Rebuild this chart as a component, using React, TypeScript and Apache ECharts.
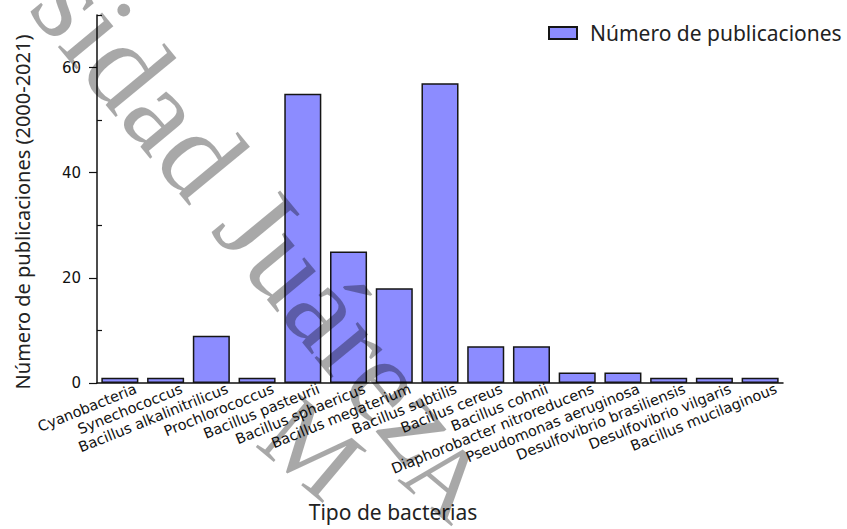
import React, { useEffect, useRef } from 'react';
import * as echarts from 'echarts';

const categories = [
  'Cyanobacteria',
  'Synechococcus',
  'Bacillus alkalinitrilicus',
  'Prochlorococcus',
  'Bacillus pasteurii',
  'Bacillus sphaericus',
  'Bacillus megaterium',
  'Bacillus subtilis',
  'Bacillus cereus',
  'Bacillus cohnii',
  'Diaphorobacter nitroreducens',
  'Pseudomonas aeruginosa',
  'Desulfovibrio brasiliensis',
  'Desulfovibrio vilgaris',
  'Bacillus mucilaginous',
];
const publicaciones = [1, 1, 9, 1, 55, 25, 18, 57, 7, 7, 2, 2, 1, 1, 1];
const yMajorTicks = [0, 20, 40, 60];
const yMinorTicks = [10, 30, 50, 70];
const seriesName = 'Número de publicaciones';
const yAxisTitle = 'Número de publicaciones (2000-2021)';
const xAxisTitle = 'Tipo de bacterias';
const watermarkMain = 'sidad Juárez';
const watermarkLetters = ['M', 'A'];

export default function App() {
  const ref = useRef<HTMLDivElement>(null);
  useEffect(() => {
    document.body.style.margin = '0';
    const chart = echarts.init(ref.current!, null, { renderer: 'svg' });
    const wmStyle = {
      fill: 'rgba(0,0,0,0.34)',
      fontFamily: '"Liberation Serif", "DejaVu Serif", serif',
    };
    chart.setOption({
      animation: false,
      backgroundColor: '#ffffff',
      grid: [
        { left: 97, right: 64, top: 15, bottom: 146 },
        { left: 113, right: 48, top: 15, bottom: 146 },
      ],
      legend: {
        left: 543,
        top: 17,
        itemWidth: 28,
        itemHeight: 12,
        icon: 'rect',
        textStyle: {
          fontFamily: '"Noto Sans", sans-serif',
          fontSize: 21,
          lineHeight: 22,
          color: '#222',
          padding: [0, 0, 0, 8],
        },
        data: [seriesName],
      },
      xAxis: [
        {
          type: 'category',
          data: categories,
          gridIndex: 0,
          axisLine: { lineStyle: { color: '#111', width: 1.5 } },
          axisTick: { alignWithLabel: true, length: 5, lineStyle: { color: '#111', width: 1.2 } },
          axisLabel: { show: false },
        },
        {
          type: 'category',
          data: categories,
          gridIndex: 1,
          axisLine: { show: false },
          axisTick: { show: false },
          axisLabel: {
            interval: 0,
            rotate: 22,
            margin: 5,
            fontFamily: '"DejaVu Sans", sans-serif',
            fontSize: 14.5,
            color: '#111',
          },
        },
      ],
      yAxis: [
        {
          type: 'value',
          gridIndex: 0,
          min: 0,
          max: 70,
          interval: 10,
          position: 'left',
          splitLine: { show: false },
          axisLine: { show: true, lineStyle: { color: '#111', width: 1.5 } },
          axisTick: {
            show: true,
            length: 8,
            customValues: yMajorTicks,
            lineStyle: { color: '#111', width: 1.2 },
          },
          axisLabel: {
            customValues: yMajorTicks,
            margin: 16,
            fontFamily: '"DejaVu Sans", sans-serif',
            fontSize: 15,
            color: '#111',
          },
        },
        {
          type: 'value',
          gridIndex: 0,
          min: 0,
          max: 70,
          interval: 10,
          position: 'left',
          offset: 0,
          splitLine: { show: false },
          axisLine: { show: false },
          axisTick: {
            show: true,
            inside: true,
            length: 5,
            customValues: yMinorTicks,
            lineStyle: { color: '#111', width: 1.2 },
          },
          axisLabel: { show: false },
        },
        {
          type: 'value',
          gridIndex: 1,
          min: 0,
          max: 70,
          show: false,
        },
      ],
      series: [
        {
          name: seriesName,
          type: 'bar',
          xAxisIndex: 0,
          yAxisIndex: 0,
          data: publicaciones,
          barCategoryGap: '19%',
          itemStyle: { color: '#8c8cff', borderColor: '#151515', borderWidth: 1.5 },
        },
      ],
      graphic: [
        {
          type: 'text',
          x: 22,
          y: 212,
          rotation: Math.PI / 2,
          style: {
            text: yAxisTitle,
            fontFamily: '"Noto Sans", sans-serif',
            fontSize: 20,
            fill: '#222',
            align: 'center',
            verticalAlign: 'middle',
          },
        },
        {
          type: 'text',
          x: 393,
          y: 512,
          style: {
            text: xAxisTitle,
            fontFamily: '"Noto Sans", sans-serif',
            fontSize: 21,
            fill: '#222',
            align: 'center',
            verticalAlign: 'middle',
          },
        },
        {
          type: 'text',
          x: 58,
          y: -18,
          rotation: -0.88,
          silent: true,
          z: 100,
          style: { ...wmStyle, text: watermarkMain, fontSize: 122, align: 'left', verticalAlign: 'middle' },
        },
        {
          type: 'text',
          x: 312,
          y: 448,
          rotation: -0.7,
          silent: true,
          z: 100,
          style: { ...wmStyle, text: watermarkLetters[0], fontSize: 105, align: 'center', verticalAlign: 'middle' },
        },
        {
          type: 'text',
          x: 446,
          y: 478,
          rotation: -0.7,
          silent: true,
          z: 100,
          style: { ...wmStyle, text: watermarkLetters[1], fontSize: 100, align: 'center', verticalAlign: 'middle' },
        },
      ],
    });
    return () => chart.dispose();
  }, []);
  return <div ref={ref} style={{ width: 847, height: 529 }} />;
}
